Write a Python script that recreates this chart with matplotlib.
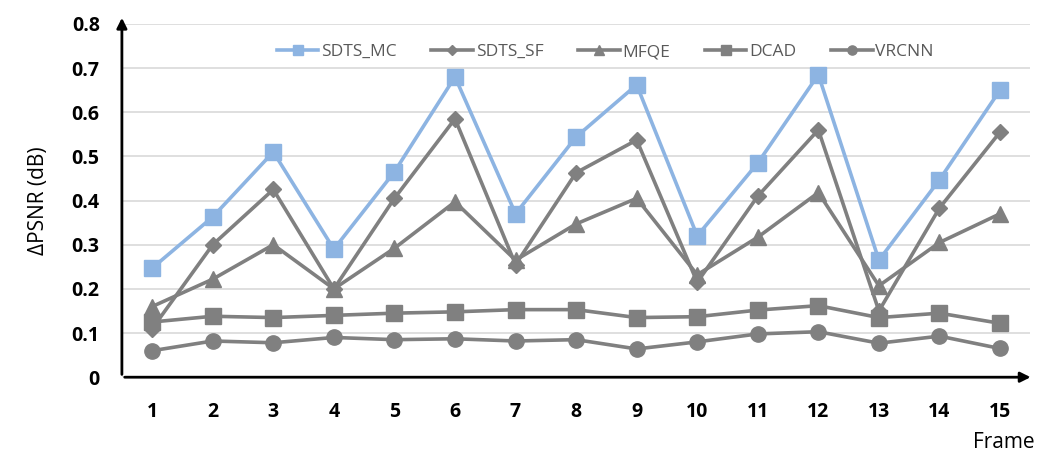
import numpy as np
import matplotlib.pyplot as plt

plt.rcParams['font.family'] = ['Open Sans', 'DejaVu Sans']

frames = np.arange(1, 16)
sdts_mc = [0.247, 0.363, 0.51, 0.29, 0.465, 0.68, 0.37, 0.544, 0.662, 0.32, 0.485, 0.685, 0.265, 0.447, 0.65]
sdts_sf = [0.11, 0.30, 0.425, 0.20, 0.405, 0.585, 0.255, 0.463, 0.537, 0.215, 0.41, 0.56, 0.15, 0.383, 0.555]
mfqe = [0.16, 0.222, 0.30, 0.20, 0.292, 0.397, 0.265, 0.347, 0.405, 0.232, 0.317, 0.418, 0.207, 0.305, 0.37]
dcad = [0.125, 0.138, 0.135, 0.14, 0.145, 0.148, 0.153, 0.153, 0.135, 0.137, 0.152, 0.162, 0.135, 0.145, 0.122]
vrcnn = [0.06, 0.082, 0.078, 0.09, 0.085, 0.087, 0.082, 0.085, 0.064, 0.08, 0.098, 0.103, 0.077, 0.093, 0.065]

blue = "#8DB4E2"
gray = "#808080"

fig = plt.figure(figsize=(10.6, 4.68), dpi=100)
ax = fig.add_axes([0.115, 0.194, 0.857, 0.755])

ax.plot(frames, sdts_mc, color=blue, lw=2.6, marker="s", ms=12, label="SDTS_MC", zorder=3)
ax.plot(frames, sdts_sf, color=gray, lw=2.6, marker="D", ms=8, label="SDTS_SF", zorder=4)
ax.plot(frames, mfqe, color=gray, lw=2.6, marker="^", ms=11, label="MFQE", zorder=4)
ax.plot(frames, dcad, color=gray, lw=2.6, marker="s", ms=12, label="DCAD", zorder=4)
ax.plot(frames, vrcnn, color=gray, lw=2.6, marker="o", ms=11, label="VRCNN", zorder=4)

ax.set_xlim(0.5, 15.5)
ax.set_ylim(0, 0.8)
ax.set_yticks(np.arange(0, 0.81, 0.1))
ax.set_yticklabels(["0", "0.1", "0.2", "0.3", "0.4", "0.5", "0.6", "0.7", "0.8"])
ax.set_xticks(frames)
ax.tick_params(length=0, labelsize=14)
ax.tick_params(axis="x", pad=18)
ax.tick_params(axis="y", pad=16)
for t in ax.get_xticklabels() + ax.get_yticklabels():
    t.set_fontweight("bold")

ax.grid(axis="y", color="#d9d9d9", lw=1.2, zorder=0)
ax.set_axisbelow(True)
for s in ["top", "right", "left", "bottom"]:
    ax.spines[s].set_visible(False)

# arrowed axes
ax.annotate("", xy=(0.5, 0.82), xytext=(0.5, 0), xycoords="data",
            arrowprops=dict(arrowstyle="-|>", color="black", lw=2, mutation_scale=15),
            annotation_clip=False)
ax.annotate("", xy=(15.55, 0), xytext=(0.5, 0), xycoords="data",
            arrowprops=dict(arrowstyle="-|>", color="black", lw=2, mutation_scale=15),
            annotation_clip=False)

ax.set_ylabel("ΔPSNR (dB)", fontsize=15, labelpad=16)
fig.text(0.976, 0.055, "Frame", fontsize=15, ha="right", va="center")

leg = ax.legend(loc="center", bbox_to_anchor=(0.532, 0.92), ncol=5, frameon=False,
                fontsize=12.5, markerscale=0.6, handlelength=2.4, columnspacing=2.0,
                handletextpad=0.15)
for t in leg.get_texts():
    t.set_color("#595959")

fig.savefig("out.png", dpi=100)
